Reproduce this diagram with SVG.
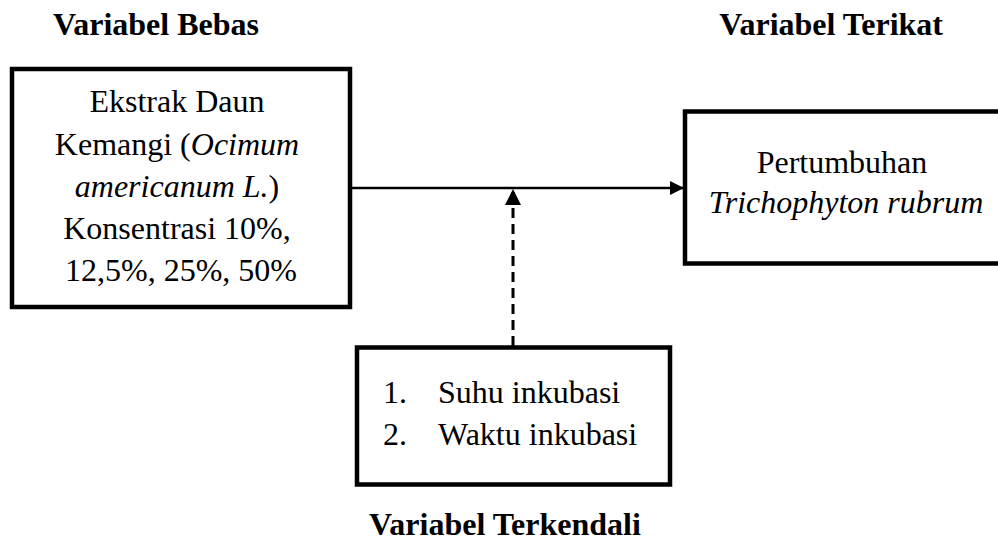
<svg xmlns="http://www.w3.org/2000/svg" width="998" height="544" viewBox="0 0 998 544">
<style>
.box{fill:#fff;stroke:#000;stroke-width:4.5}
.t{font-family:"Liberation Serif","Times New Roman",serif;font-size:32px;fill:#000}
.h{font-family:"Liberation Serif","Times New Roman",serif;font-size:32px;font-weight:bold;fill:#000}
.i{font-style:italic}
</style>
<defs>
<marker id="ah" markerWidth="14" markerHeight="14" refX="14" refY="7" orient="auto" markerUnits="userSpaceOnUse">
<path d="M0,0 L14,7 L0,14 Z" fill="#000"/>
</marker>
<marker id="ah2" markerWidth="16" markerHeight="16" refX="16" refY="8" orient="auto" markerUnits="userSpaceOnUse">
<path d="M0,0 L16,8 L0,16 Z" fill="#000"/>
</marker>
</defs>
<rect width="998" height="544" fill="#fff"/>
<g id="connectors">
<line x1="350" y1="188" x2="684" y2="188" stroke="#000" stroke-width="2.5" marker-end="url(#ah)"/>
<line x1="513" y1="346" x2="513" y2="189" stroke="#000" stroke-width="3" stroke-dasharray="10,6" marker-end="url(#ah2)"/>
</g>
<g id="label-bebas"><text class="h" x="53" y="35">Variabel Bebas</text></g>
<g id="label-terikat"><text class="h" x="943" y="35" text-anchor="end">Variabel Terikat</text></g>
<g id="label-terkendali"><text class="h" x="505" y="535" text-anchor="middle">Variabel Terkendali</text></g>
<g id="node-bebas">
<rect class="box" x="12" y="69" width="338" height="238"/>
<text class="t" text-anchor="middle">
<tspan x="181" y="112">Ekstrak Daun</tspan>
<tspan x="181" y="155">Kemangi (<tspan class="i">Ocimum</tspan></tspan>
<tspan x="181" y="197"><tspan class="i">americanum L.</tspan>)</tspan>
<tspan x="181" y="239">Konsentrasi 10%,</tspan>
<tspan x="181" y="281">12,5%, 25%, 50%</tspan>
</text>
</g>
<g id="node-terikat">
<rect class="box" x="685" y="111.5" width="318" height="152"/>
<text class="t" text-anchor="middle">
<tspan x="846" y="173">Pertumbuhan</tspan>
<tspan x="846" y="213" class="i">Trichophyton rubrum</tspan>
</text>
</g>
<g id="node-terkendali">
<rect class="box" x="357" y="347.5" width="313" height="137"/>
<text class="t"><tspan x="383" y="403">1.</tspan><tspan x="438" y="403">Suhu inkubasi</tspan></text>
<text class="t"><tspan x="383" y="445">2.</tspan><tspan x="438" y="445">Waktu inkubasi</tspan></text>
</g>
</svg>
